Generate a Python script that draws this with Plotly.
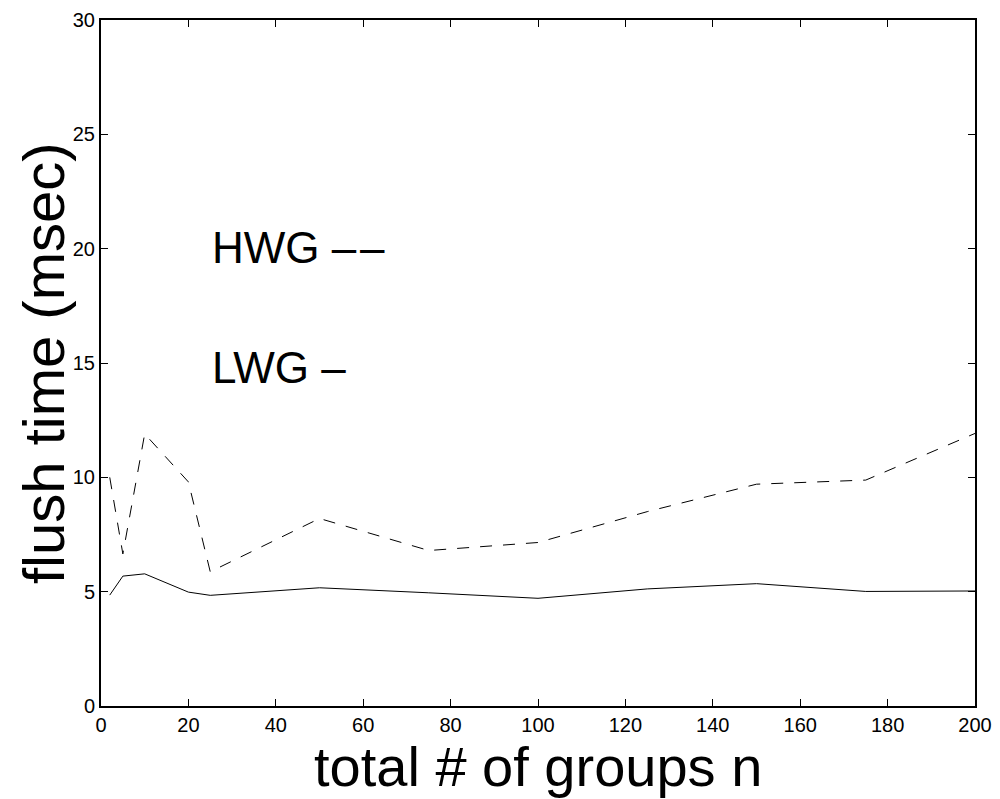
import plotly.graph_objects as go

n_groups = [2, 5, 10, 20, 25, 50, 75, 100, 125, 150, 175, 200]
hwg = [10.0, 6.65, 11.9, 9.8, 5.87, 8.2, 6.8, 7.15, 8.5, 9.7, 9.88, 11.92]
lwg = [4.85, 5.68, 5.78, 4.98, 4.84, 5.17, 4.95, 4.71, 5.12, 5.35, 5.01, 5.03]
x_ticks = list(range(0, 201, 20))
y_ticks = list(range(0, 31, 5))
x_title = "total # of groups n"
y_title = "flush time (msec)"

FONT = "Liberation Sans"

fig = go.Figure()
fig.add_trace(go.Scatter(x=n_groups, y=hwg, mode="lines",
                         line=dict(color="black", width=1, dash="12px,11px")))
fig.add_trace(go.Scatter(x=n_groups, y=lwg, mode="lines",
                         line=dict(color="black", width=1)))

fig.add_annotation(x=25, y=20.05, text="HWG –\u200a–", showarrow=False, xanchor="left",
                   yanchor="middle",
                   font=dict(size=44, color="black", family=FONT))
fig.add_annotation(x=25, y=14.8, text="LWG –", showarrow=False, xanchor="left",
                   yanchor="middle",
                   font=dict(size=44, color="black", family=FONT))

# axis titles as annotations (fixed placement)
fig.add_annotation(x=0.5, y=0, xref="paper", yref="paper", text=x_title,
                   showarrow=False, xanchor="center", yanchor="top", yshift=-28,
                   borderpad=0,
                   font=dict(size=56, color="black", family=FONT))
fig.add_annotation(x=0, y=0.5, xref="paper", yref="paper", text=y_title,
                   showarrow=False, xanchor="center", yanchor="middle", xshift=-58,
                   textangle=-90,
                   font=dict(size=58, color="black", family=FONT))

axis_common = dict(showgrid=False, zeroline=False, showline=True, linecolor="black",
                   linewidth=2, mirror="allticks", ticks="inside", ticklen=7,
                   tickcolor="black", tickwidth=1, automargin=False,
                   tickfont=dict(size=20, color="black", family=FONT))

fig.update_layout(
    width=992, height=791,
    margin=dict(l=93, r=25, t=12, b=93),
    paper_bgcolor="white", plot_bgcolor="white",
    showlegend=False,
    xaxis=dict(range=[0, 200], tickvals=x_ticks, **axis_common),
    yaxis=dict(range=[0, 30], tickvals=y_ticks, **axis_common),
)

fig.write_html("out.html")
